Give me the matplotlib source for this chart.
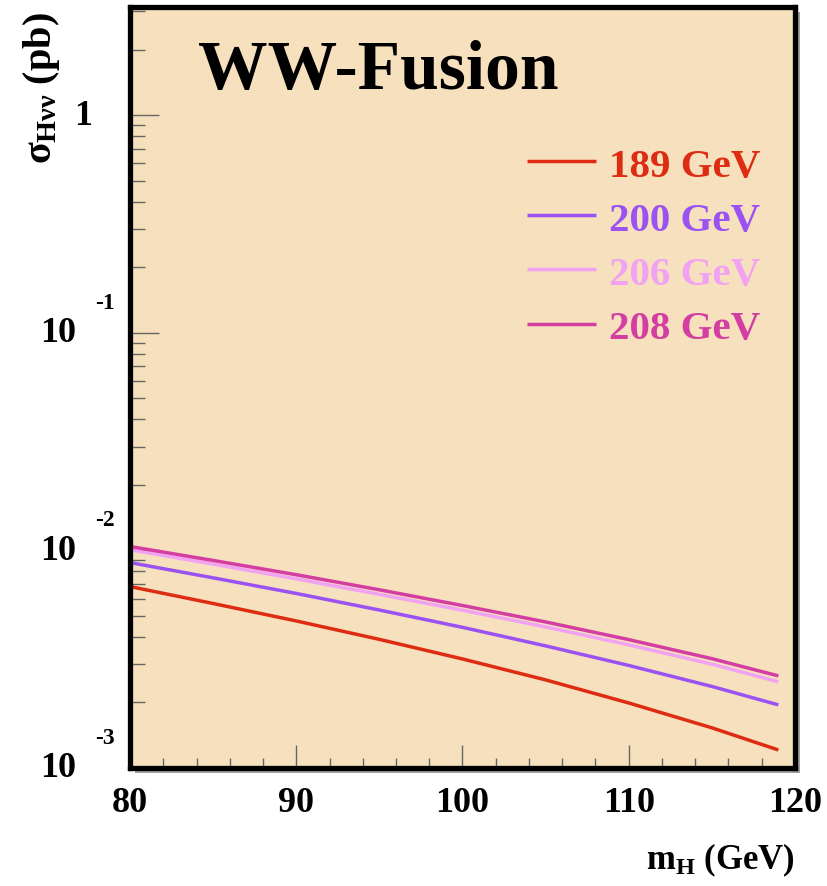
import numpy as np
import matplotlib
matplotlib.use("Agg")
import matplotlib.pyplot as plt
from matplotlib.patches import Rectangle
from matplotlib.ticker import LogLocator, NullFormatter, FixedLocator

plt.rcParams["mathtext.fontset"] = "custom"
plt.rcParams["mathtext.rm"] = "Liberation Serif:bold"
plt.rcParams["mathtext.it"] = "Liberation Serif:bold"
plt.rcParams["mathtext.bf"] = "Liberation Serif:bold"

# ---- data ----
m_H = [80, 85, 90, 95, 100, 105, 110, 115, 119]
sigma_189 = [0.00682, 0.00570, 0.00474, 0.00390, 0.00317, 0.00254, 0.00199, 0.00153, 0.00121]
sigma_200 = [0.00879, 0.00748, 0.00634, 0.00532, 0.00443, 0.00364, 0.00296, 0.00237, 0.00195]
sigma_206 = [0.01007, 0.00865, 0.00740, 0.00628, 0.00531, 0.00445, 0.00368, 0.00300, 0.00249]
sigma_208 = [0.01042, 0.00899, 0.00773, 0.00659, 0.00558, 0.00469, 0.00389, 0.00318, 0.00265]
labels = ["189 GeV", "200 GeV", "206 GeV", "208 GeV"]
colors = ["#DE2C12", "#9A52F2", "#F2A2F2", "#D43EA2"]
y_major = [1e-3, 1e-2, 1e-1, 1.0]
y_major_base = ["10", "10", "10", "1"]
y_major_exp = ["-3", "-2", "-1", ""]
x_ticks = [80, 90, 100, 110, 120]

W, H = 828, 887
fig = plt.figure(figsize=(W / 100, H / 100), dpi=100)
fig.patch.set_facecolor("white")

left, right, top, bottom = 130, 795, 8, 769
ax = fig.add_axes([left / W, 1 - bottom / H, (right - left) / W, (bottom - top) / H])
ax.set_facecolor("#F7E0BD")

serif = ["Liberation Serif", "DejaVu Serif"]

for ys, lab, c in zip([sigma_189, sigma_200, sigma_206, sigma_208], labels, colors):
    ax.plot(m_H, ys, color=c, lw=2.5, label=lab, solid_capstyle="butt")

ax.set_yscale("log")
ax.set_xlim(80, 120)
ax.set_ylim(1e-3, 3.14)

# ticks
ax.xaxis.set_major_locator(FixedLocator(x_ticks))
ax.xaxis.set_minor_locator(FixedLocator(np.arange(80, 121, 2)))
ax.yaxis.set_major_locator(FixedLocator(y_major))
ax.yaxis.set_minor_locator(LogLocator(base=10, subs=np.arange(2, 10)))
ax.yaxis.set_minor_formatter(NullFormatter())
ax.set_yticklabels([])
ax.tick_params(axis="x", which="major", direction="in", length=16.5, width=1.0,
               color="#666666", pad=13, labelsize=26)
ax.tick_params(axis="x", which="minor", direction="in", length=7.5, width=1.0, color="#666666")
ax.tick_params(axis="y", which="major", direction="in", length=21, width=1.0, color="#666666")
ax.tick_params(axis="y", which="minor", direction="in", length=10.5, width=1.0, color="#666666")
for lab in ax.get_xticklabels():
    lab.set_fontfamily(serif)
    lab.set_fontweight("bold")

# y tick labels, ROOT style
ytr = ax.get_yaxis_transform()
for v, b, e in zip(y_major, y_major_base, y_major_exp):
    if e:
        ax.annotate(b, xy=(0, v), xycoords=ytr, xytext=(-52, 0), textcoords="offset points",
                    ha="center", va="center", fontsize=26, fontweight="bold",
                    family=serif, annotation_clip=False)
        ax.annotate(e, xy=(0, v), xycoords=ytr, xytext=(-18, 22), textcoords="offset points",
                    ha="center", va="center", fontsize=17, fontweight="bold",
                    family=serif, annotation_clip=False)
    else:
        ax.annotate(b, xy=(0, v), xycoords=ytr, xytext=(-34, 0), textcoords="offset points",
                    ha="center", va="center", fontsize=26, fontweight="bold",
                    family=serif, annotation_clip=False)

for s in ax.spines.values():
    s.set_linewidth(3.8)
    s.set_color("black")
    s.set_zorder(5)

# drop shadow
fig.patches.append(Rectangle(((left + 5) / W, 1 - (bottom + 5) / H), (right - left) / W,
                             (bottom - top) / H, transform=fig.transFigure,
                             facecolor="#a0a0a0", edgecolor="none", zorder=-1))

# title
ax.text(0.102, 0.893, "WW-Fusion", transform=ax.transAxes, fontsize=50,
        fontweight="bold", family=serif, ha="left", va="baseline")

# legend
leg = ax.legend(loc="upper left", bbox_to_anchor=(0.566, 0.843), frameon=False,
                handlelength=1.68, handletextpad=0.33, labelspacing=0.40, borderpad=0,
                labelcolor="linecolor", prop={"family": serif, "weight": "bold", "size": 29.5})

# axis labels
fig.text(795 / W, 1 - 860 / H, r"m$_{\mathrm{H}}$ (GeV)", ha="right", va="center",
         fontsize=25, fontweight="bold", family=serif)
fig.text(42 / W, 1 - 12 / H, r"$\sigma_{\mathrm{H\nu\nu}}$ (pb)", ha="center", va="top",
         rotation=90, fontsize=29, fontweight="bold", family=serif)

fig.savefig("out.png", dpi=100, facecolor="white")
